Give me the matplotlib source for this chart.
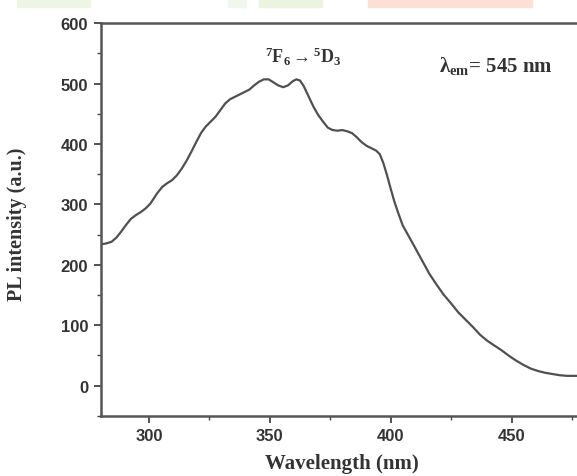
import matplotlib
matplotlib.use("Agg")
import matplotlib.pyplot as plt
from matplotlib.ticker import MultipleLocator
from matplotlib.patches import Rectangle

# excitation spectrum
wavelength = [280, 282, 284.5, 286.5, 288.5, 290.5, 292.5, 294.5, 296.5, 298.5,
              300.5, 302, 303.5, 305.5, 307.5, 309.5, 311.5, 313.5, 315.5, 317.5,
              319.5, 321.5, 323.5, 325.5, 327.5, 329.5, 331.5, 333.5, 335.5, 337.5,
              339.5, 341.5, 343.5, 345.5, 347.5, 349.5, 351.5, 353.5, 355.5, 357.5,
              359.5, 361, 362.5, 364, 366, 368, 370, 372, 374, 376,
              378, 380, 382, 384, 386, 388, 390, 392, 394, 395.5,
              397, 398.5, 400, 401.5, 403, 405, 407.5, 410, 413, 416,
              419, 422, 425, 428, 431, 434, 437, 440, 443, 446,
              449, 452, 455, 458, 461, 464, 467, 470, 473, 476, 480]
intensity = [234, 235, 238, 245, 255, 266, 276, 282, 287, 293,
             301, 310, 319, 329, 335, 340, 348, 359, 372, 387,
             403, 418, 429, 437, 445, 456, 467, 474, 478, 482,
             486, 490, 497, 503, 507, 507, 502, 497, 494, 497,
             504, 507, 505, 496, 479, 462, 448, 437, 427, 423,
             422, 423, 421, 418, 411, 403, 397, 393, 389, 383,
             368, 348, 326, 305, 287, 265, 247, 229, 207, 185,
             167, 150, 136, 121, 109, 97, 84, 74, 66, 58,
             49, 41, 34, 28, 24, 21, 19, 17, 16, 16, 16]

xticks = [300, 350, 400, 450]
yticks = [0, 100, 200, 300, 400, 500, 600]

plt.rcParams['mathtext.fontset'] = 'custom'
plt.rcParams['mathtext.rm'] = 'Liberation Serif:bold'
plt.rcParams['mathtext.it'] = 'Liberation Serif:bold'
plt.rcParams['mathtext.bf'] = 'Liberation Serif:bold'

fig = plt.figure(figsize=(5.77, 4.77), dpi=100)
W, H = 577, 477

# faint watermark strip at the very top
for x0, x1, c in [(17, 90, '#edf6e3'), (228, 246, '#f1f7ea'), (259, 322, '#eaf4df'),
                  (368, 532, '#fcdfd5')]:
    fig.patches.append(Rectangle((x0 / W, 1 - 8 / H), (x1 - x0) / W, 8 / H,
                                 transform=fig.transFigure, color=c, zorder=0))

ax = fig.add_axes([100.7 / W, (H - 416.7) / H, (584 - 100.7) / W, 392.5 / H])
ax.plot(wavelength, intensity, color='#505050', lw=1.6,
        solid_joinstyle='round', solid_capstyle='round')

ax.set_xlim(280, 480)
ax.set_ylim(-50, 600)
ax.set_xticks(xticks)
ax.set_yticks(yticks)
ax.xaxis.set_minor_locator(MultipleLocator(25))
ax.yaxis.set_minor_locator(MultipleLocator(50))
ax.tick_params(which='major', direction='out', length=5, width=1.3, color='#444444',
               labelsize=12, pad=4)
ax.tick_params(which='minor', direction='out', length=3, width=1.0, color='#444444')
for lab in ax.get_xticklabels() + ax.get_yticklabels():
    lab.set_fontweight('bold')
    lab.set_fontfamily('Liberation Sans')
    lab.set_color('#333333')
for s in ax.spines.values():
    s.set_linewidth(1.8)
    s.set_color('#555555')

ax.set_xlabel('Wavelength (nm)', fontfamily='Liberation Serif', fontweight='bold',
              fontsize=15, color='#333333', labelpad=7)
ax.set_ylabel('PL intensity (a.u.)', fontfamily='Liberation Serif', fontweight='bold',
              fontsize=14.5, color='#333333')
ax.yaxis.set_label_coords(-(100.7 - 27) / 483, 0.49)

ax.text(364, 546, r'$^{7}$F$_{6}$$\rightarrow$$^{5}$D$_{3}$', ha='center', va='center',
        fontfamily='Liberation Serif', fontweight='bold', fontsize=13, color='#333333')
ax.text(420, 530, 'λ$_{em}$= 545 nm', ha='left', va='center',
        fontfamily='Liberation Serif', fontweight='bold', fontsize=15, color='#333333')

fig.savefig('out.png', dpi=100)
